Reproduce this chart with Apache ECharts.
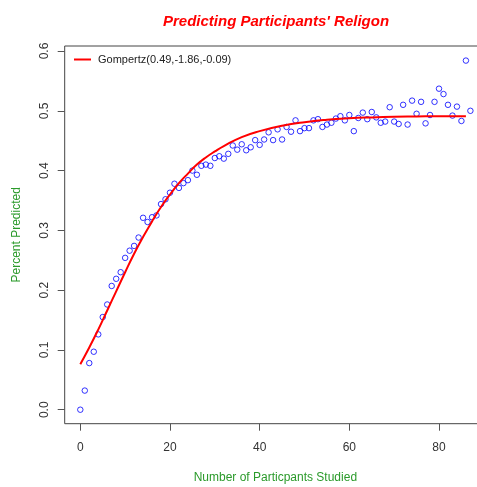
<!DOCTYPE html>
<html>
<head>
<meta charset="utf-8">
<script src="https://cdn.jsdelivr.net/npm/echarts@6/dist/echarts.min.js"></script>
<style>html,body{margin:0;padding:0;background:#fff;}#c{width:477px;height:487px;}</style>
</head>
<body>
<div id="c"></div>
<script>
var titleText = "Predicting Participants' Religon";
var xName = "Number of Particpants Studied";
var yName = "Percent Predicted";
var legendName = "Gompertz(0.49,-1.86,-0.09)";
var xTicks = [0, 20, 40, 60, 80];
var yTicks = [0.0, 0.1, 0.2, 0.3, 0.4, 0.5, 0.6];

var obsX = [0,1,2,3,4,5,6,7,8,9,10,11,12,13,14,15,16,17,18,19,20,21,22,23,24,25,26,27,28,29,
  30,31,32,33,34,35,36,37,38,39,40,41,42,43,44,45,46,47,48,49,50,51,52,53,54,55,56,57,58,59,
  60,61,62,63,64,65,66,67,68,69,70,71,72,73,74,75,76,77,78,79,80,81,82,83,84,85,86,87];
var obsY = [0.000,0.032,0.078,0.097,0.126,0.155,0.176,0.207,0.219,0.230,0.254,0.266,0.274,0.288,0.321,0.314,0.322,0.325,0.344,0.352,
  0.363,0.378,0.371,0.379,0.384,0.400,0.393,0.408,0.410,0.408,0.421,0.424,0.420,0.428,0.442,0.435,0.444,0.434,0.439,0.451,
  0.443,0.452,0.464,0.451,0.469,0.452,0.473,0.465,0.484,0.466,0.471,0.471,0.484,0.486,0.473,0.477,0.480,0.487,0.491,0.484,
  0.493,0.466,0.488,0.497,0.486,0.498,0.489,0.480,0.482,0.506,0.482,0.478,0.510,0.477,0.517,0.495,0.515,0.479,0.493,0.515,
  0.537,0.528,0.510,0.492,0.507,0.483,0.584,0.500];

var fitX = [0,2,4,6,8,10,12,14,16,18,20,22,24,26,28,30,32,36,40,45,50,55,60,65,70,75,80,86];
var fitY = [0.076,0.104,0.134,0.166,0.198,0.230,0.261,0.289,0.315,0.339,0.360,0.379,0.395,0.410,0.422,0.432,0.441,0.456,0.466,0.475,0.481,0.485,0.4875,0.489,0.490,0.4905,0.491,0.491];

var scatterData = obsX.map(function (x, i) { return [x, obsY[i]]; });
var fitData = fitX.map(function (x, i) { return [x, fitY[i]]; });

var chart = echarts.init(document.getElementById('c'), null, {renderer: 'canvas'});
var font = 'Liberation Sans, Arial, sans-serif';
chart.setOption({
  animation: false,
  backgroundColor: '#ffffff',
  title: {
    text: titleText,
    left: 271, top: 9, textAlign: 'center',
    textStyle: {color: '#ff0000', fontSize: 15, fontWeight: 'bold', fontStyle: 'italic', fontFamily: font}
  },
  legend: {
    left: 69, top: 49,
    itemWidth: 17, itemHeight: 2, itemGap: 6,
    icon: 'rect',
    data: [{name: legendName, itemStyle: {color: '#ff0000'}}],
    textStyle: {color: '#222', fontSize: 11, fontFamily: font, padding: [0, 0, 0, 2]}
  },
  grid: {
    left: 64.7, top: 46, width: 421.3, height: 377.7,
    outerBoundsMode: 'none', containLabel: false,
    show: true, borderColor: '#444', borderWidth: 1, backgroundColor: 'transparent'
  },
  xAxis: {
    type: 'value', min: -3.48, max: 90.48,
    splitLine: {show: false},
    axisLine: {show: false, onZero: false},
    axisTick: {show: true, customValues: xTicks, length: 7, lineStyle: {color: '#555'}},
    axisLabel: {customValues: xTicks, color: '#333', fontSize: 12, fontFamily: font, margin: 18},
    name: xName, nameLocation: 'middle', nameGap: 48,
    nameTextStyle: {color: '#2a9a2a', fontSize: 12, fontFamily: font}
  },
  yAxis: {
    type: 'value', min: -0.0234, max: 0.6084,
    splitLine: {show: false},
    axisLine: {show: false, onZero: false},
    axisTick: {show: true, customValues: yTicks, length: 7, lineStyle: {color: '#555'}},
    axisLabel: {customValues: yTicks, rotate: 90, color: '#333', fontSize: 12, fontFamily: font, margin: 14,
      formatter: function (v) { return v.toFixed(1); }},
    name: yName, nameLocation: 'middle', nameGap: 42, nameRotate: 90,
    nameTextStyle: {color: '#2a9a2a', fontSize: 12, fontFamily: font}
  },
  series: [
    {
      type: 'scatter', name: 'obs', data: scatterData,
      symbol: 'circle', symbolSize: 5.5,
      itemStyle: {color: 'rgba(0,0,0,0)', borderColor: '#0000ff', borderWidth: 1},
      z: 2
    },
    {
      type: 'line', name: legendName, data: fitData,
      showSymbol: false, smooth: true,
      lineStyle: {color: '#ff0000', width: 2},
      itemStyle: {color: '#ff0000'},
      z: 3
    }
  ]
});
</script>
</body>
</html>
